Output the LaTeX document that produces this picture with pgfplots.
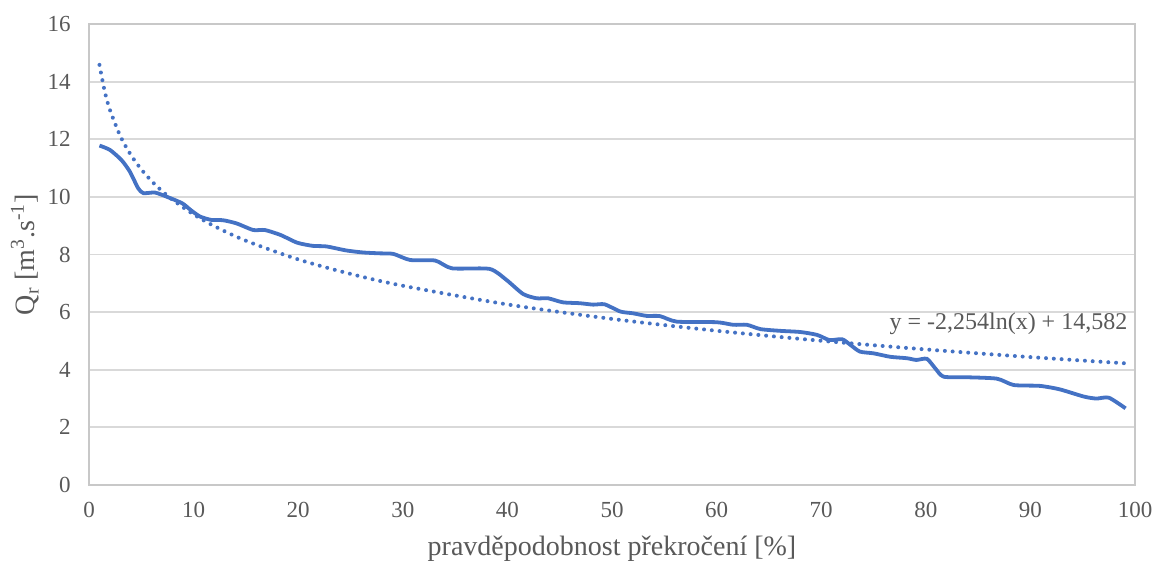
\documentclass[border=0pt]{standalone}
\usepackage{pgfplots}
\pgfplotsset{compat=1.18}
\usepackage{fontspec}
\setmainfont{Liberation Serif}
\definecolor{lineblue}{HTML}{4472C4}
\definecolor{gridgray}{HTML}{D9D9D9}
\definecolor{boxgray}{HTML}{C8C8C8}
\definecolor{textgray}{HTML}{595959}

\begin{document}
\begin{tikzpicture}
\begin{axis}[name=ax, scale only axis, width=523bp, height=230.5bp,
  xmin=0, xmax=100, ymin=0, ymax=16,
  xtick distance=10, ytick distance=2,
  ymajorgrids, major grid style={draw=gridgray, line width=0.9bp},
  axis line style={draw=boxgray, line width=1bp},
  tick style={draw=none},
  /pgf/number format/assume math mode=true,
  ticklabel style={font=\fontsize{11.5bp}{13bp}\selectfont, text=textgray},
  xticklabel shift=5bp, yticklabel shift=5.7bp,
  label style={font=\fontsize{14bp}{16bp}\selectfont, text=textgray},
  xlabel={pravděpodobnost překročení [\%]},
  ylabel={Q\textsubscript{r} [m\textsuperscript{3}.s\textsuperscript{-1}]},
  xlabel style={at={(axis description cs:0.5,0)}, anchor=center, yshift=-31.75bp},
  ylabel style={at={(axis description cs:-0.0612,0.5)}, anchor=center},
  clip=false]
% measured curve
\addplot[lineblue, line width=1.9bp, smooth, tension=0.4] coordinates {
(1,11.78) (2,11.63) (3.1,11.28) (3.9,10.88) (4.7,10.3) (5.2,10.13) (6.3,10.15)
(7.4,10.01) (8.9,9.78) (9.7,9.55) (10.6,9.32) (11.7,9.2) (12.8,9.19) (14.1,9.08)
(15.7,8.85) (16.8,8.85) (18.3,8.68) (19.9,8.41) (21.4,8.3) (22.7,8.28) (24.6,8.14)
(26.2,8.07) (27.8,8.04) (29.1,8.02) (30.7,7.81) (33.1,7.79) (34.7,7.52) (38.3,7.5)
(39.9,7.12) (41.5,6.63) (42.8,6.48) (43.9,6.48) (45.3,6.34) (46.9,6.31) (48.2,6.26)
(49.3,6.27) (50.8,6.02) (52,5.96) (53.3,5.87) (54.6,5.86) (56.2,5.67) (60,5.65)
(61.6,5.56) (62.9,5.56) (64.2,5.41) (66.1,5.35) (68,5.31) (69.6,5.21) (70.8,5.03)
(72,5.06) (72.8,4.86) (73.7,4.63) (75,4.57) (76.6,4.45) (78.2,4.4) (79.1,4.34)
(80.1,4.38) (80.9,4.05) (81.7,3.76) (83.9,3.74) (86.8,3.69) (88.4,3.47) (90.9,3.44)
(92.8,3.32) (95.1,3.07) (96.3,3.0) (97.5,3.03) (99.1,2.66)};
% log trendline (values read off)
\addplot[lineblue, line width=2bp, line cap=round, dash pattern=on 0bp off 3.9bp, smooth] coordinates {
(1,14.582) (1.5,13.668) (2,13.020) (3,12.106) (4,11.457) (5,10.954) (6,10.543)
(7,10.196) (8,9.895) (10,9.392) (12,8.981) (15,8.478) (20,7.830) (25,7.327)
(30,6.916) (40,6.267) (50,5.764) (60,5.353) (70,5.006) (80,4.705) (90,4.439) (99,4.225)};
\node[font=\fontsize{12bp}{14bp}\selectfont, text=textgray] at (axis cs:87.9,5.59) {y = -2,254ln(x) + 14,582};
\end{axis}
\pgfresetboundingbox
\path ([xshift=-44.5bp,yshift=-40.5bp]ax.south west) rectangle ([xshift=10.5bp,yshift=12bp]ax.north east);
\end{tikzpicture}
\end{document}
